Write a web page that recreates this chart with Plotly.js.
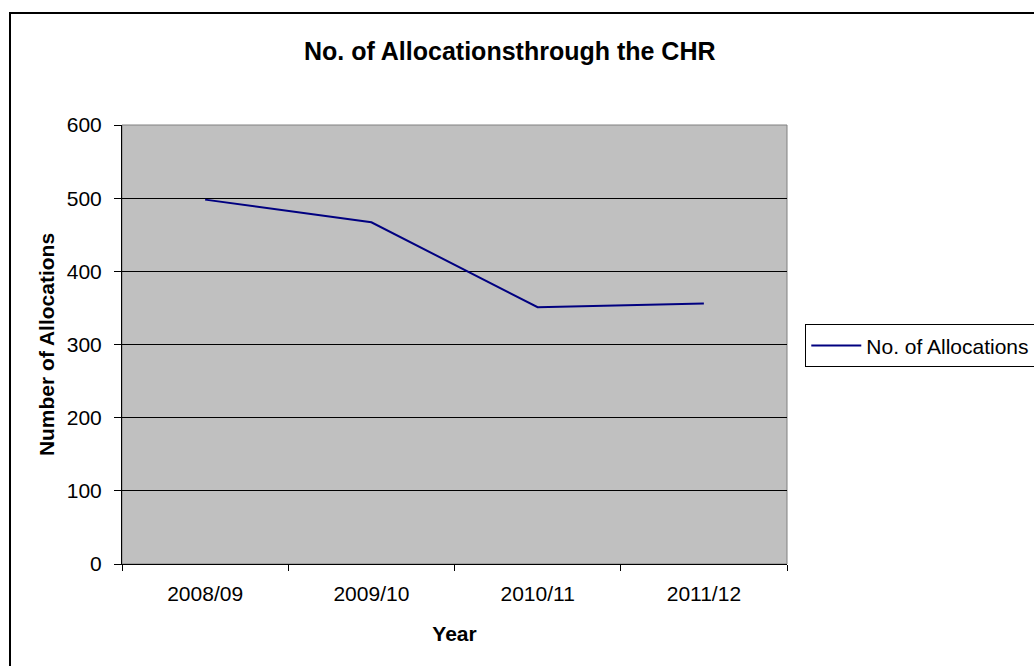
<!DOCTYPE html>
<html>
<head>
<meta charset="utf-8">
<script src="https://cdn.plot.ly/plotly-3.0.1.min.js"></script>
<style>
  html, body { margin: 0; padding: 0; background: #ffffff; overflow: hidden; }
  #wrap { position: relative; width: 1034px; height: 666px; }
  #chart { position: absolute; left: 0; top: 0; width: 1034px; height: 666px; }
  #frame {
    position: absolute; left: 9px; top: 12px; width: 1100px; height: 720px;
    border: 2px solid #000000; pointer-events: none;
  }
</style>
</head>
<body>
<div id="wrap">
  <div id="chart"></div>
  <div id="frame"></div>
</div>
<script>
// Allocations per financial year
const years = ["2008/09", "2009/10", "2010/11", "2011/12"];
const allocations = [498, 467, 351, 356];
const seriesName = "No. of Allocations";
const yTicks = [0, 100, 200, 300, 400, 500, 600];

const FONT = "Liberation Sans, Arial, sans-serif";

const trace = {
  type: "scatter",
  mode: "lines",
  x: years,
  y: allocations,
  name: seriesName,
  line: { color: "#000080", width: 2 },
  showlegend: true
};

const layout = {
  width: 1034,
  height: 666,
  margin: { l: 122, r: 247, t: 125, b: 102, autoexpand: false },
  paper_bgcolor: "rgba(0,0,0,0)",
  plot_bgcolor: "#C0C0C0",
  font: { family: FONT, size: 21, color: "#000000" },
  title: {
    text: "<b>No. of Allocationsthrough the CHR</b>",
    font: { family: FONT, size: 25, color: "#000000" },
    xref: "container", yref: "container",
    x: 0.493, xanchor: "center",
    y: 1 - 51 / 666, yanchor: "middle"
  },
  xaxis: {
    type: "category",
    range: [-0.5, 3.5],
    showgrid: false,
    zeroline: false,
    showline: true, linecolor: "#000000", linewidth: 1,
    ticks: "outside", ticklen: 6, tickcolor: "#000000", tickwidth: 1,
    tickson: "boundaries",
    ticklabelstandoff: 11,
    tickfont: { family: FONT, size: 21, color: "#000000" },
    title: {
      text: "<b>Year</b>",
      font: { family: FONT, size: 21, color: "#000000" },
      standoff: 22
    }
  },
  yaxis: {
    range: [0, 600],
    tickvals: yTicks,
    ticktext: yTicks.map(String),
    showgrid: true, gridcolor: "#000000", gridwidth: 1,
    zeroline: false,
    showline: true, linecolor: "#000000", linewidth: 1,
    ticks: "outside", ticklen: 7, tickcolor: "#000000", tickwidth: 1,
    ticklabelstandoff: 8,
    tickfont: { family: FONT, size: 21, color: "#000000" },
    title: {
      text: "<b>Number of Allocations</b>",
      font: { family: FONT, size: 21, color: "#000000" },
      standoff: 6
    }
  },
  legend: {
    x: 1.0275, xanchor: "left",
    y: 0.546, yanchor: "top",
    bgcolor: "#ffffff",
    bordercolor: "#000000", borderwidth: 1,
    font: { family: FONT, size: 21, color: "#000000" },
    itemwidth: 50
  },
  shapes: [{
    type: "rect", xref: "paper", yref: "paper",
    x0: 0, x1: 1, y0: 0, y1: 1,
    line: { color: "#808080", width: 1 },
    fillcolor: "rgba(0,0,0,0)",
    layer: "below"
  }]
};

Plotly.newPlot("chart", [trace], layout, { staticPlot: true, displayModeBar: false });
</script>
</body>
</html>
